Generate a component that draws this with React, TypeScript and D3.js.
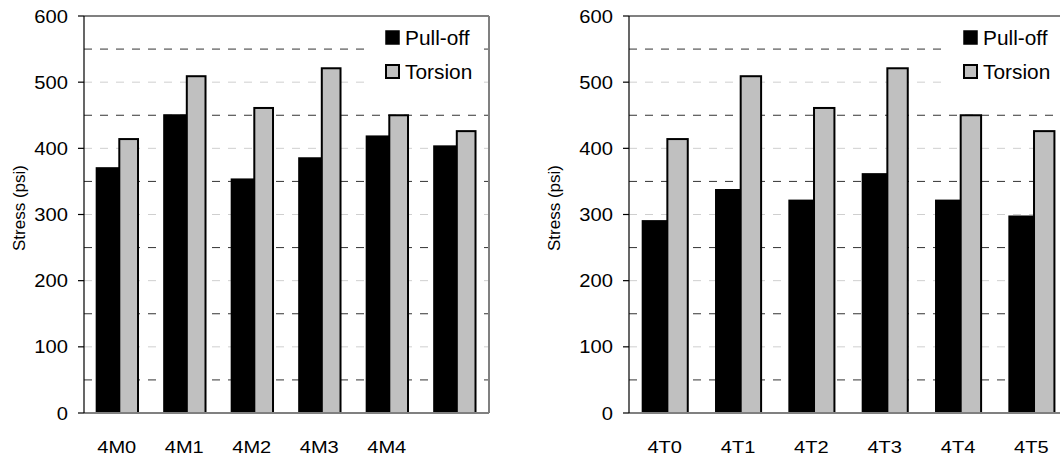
import React from "react";
import * as d3 from "d3";

const yTicks = [0, 100, 200, 300, 400, 500, 600];
const minorGrid = [50, 150, 250, 350, 450, 550];
const majorGrid = [100, 200, 300, 400, 500];
const seriesNames = ["Pull-off", "Torsion"];

const leftCategories = ["4M0", "4M1", "4M2", "4M3", "4M4", "4M5"];
const leftLabels = ["4M0", "4M1", "4M2", "4M3", "4M4", ""];
const leftPulloff = [370, 450, 353, 385, 418, 403];
const leftTorsion = [414, 509, 461, 521, 450, 426];

const rightCategories = ["4T0", "4T1", "4T2", "4T3", "4T4", "4T5"];
const rightLabels = ["4T0", "4T1", "4T2", "4T3", "4T4", "4T5"];
const rightPulloff = [290, 337, 321, 361, 321, 297];
const rightTorsion = [414, 509, 461, 521, 450, 426];

const FONT = "'Liberation Sans', Arial, Helvetica, sans-serif";
const SX = 1.12;

type PanelProps = {
  x0: number;
  x1: number;
  y0: number;
  y1: number;
  categories: string[];
  labels: string[];
  pulloff: number[];
  torsion: number[];
  titleX: number;
  legendX: number;
};

function Panel(p: PanelProps) {
  const x = d3.scaleBand<string>().domain(p.categories).range([p.x0, p.x1]).padding(0);
  const y = d3.scaleLinear().domain([0, 600]).range([p.y1, p.y0]);
  const bw = x.bandwidth();
  const frac = d3.scaleLinear().domain([0, 1]).range([0, bw]);
  const bStart = 0.173, bMid = 0.523, bEnd = 0.815;
  const clipId = "clip" + Math.round(p.x0);
  return (
    <g>
      <defs>
        <clipPath id={clipId}>
          <rect x={p.x0} y={p.y0 - 2} width={p.x1 - p.x0 + 2} height={p.y1 - p.y0 + 4} />
        </clipPath>
      </defs>
      <g clipPath={`url(#${clipId})`}>
        {majorGrid.map((v) => (
          <line key={"M" + v} x1={p.x0} x2={p.x1} y1={y(v)} y2={y(v)} stroke="#cfcfcf" strokeWidth={1} strokeDasharray="8,8" />
        ))}
        {minorGrid.map((v) => (
          <line key={"m" + v} x1={p.x0} x2={p.x1} y1={y(v)} y2={y(v)} stroke="#333" strokeWidth={1} strokeDasharray="8,8" />
        ))}
        {p.categories.map((c, i) => {
          const bx = x(c)!;
          return (
            <g key={c}>
              <rect x={bx + frac(bStart) + 1} y={y(p.pulloff[i])} width={frac(bMid - bStart) - 1} height={y(0) - y(p.pulloff[i])} fill="#000" stroke="#000" strokeWidth={2} />
              <rect x={bx + frac(bMid)} y={y(p.torsion[i])} width={frac(bEnd - bMid) - 1} height={y(0) - y(p.torsion[i])} fill="#c0c0c0" stroke="#000" strokeWidth={2} />
            </g>
          );
        })}
        <rect x={p.legendX - 18} y={p.y0 + 1} width={116} height={79} fill="#fff" />
        <rect x={p.legendX + 1} y={31} width={13} height={13} fill="#000" stroke="#000" strokeWidth={1.5} />
        <rect x={p.legendX + 1} y={65} width={13} height={13} fill="#c0c0c0" stroke="#000" strokeWidth={2} />
        {seriesNames.map((s, i) => (
          <text key={s} transform={`translate(${p.legendX + 20},${45 + i * 33.5}) scale(1.07,1)`} fontSize={19.5} fontFamily={FONT} fill="#000">
            {s}
          </text>
        ))}
      </g>
      {/* frame */}
      <line x1={p.x0} x2={p.x1} y1={p.y0} y2={p.y0} stroke="#808080" strokeWidth={2} />
      <line x1={p.x1} x2={p.x1} y1={p.y0} y2={p.y1} stroke="#808080" strokeWidth={2} />
      <line x1={p.x0} x2={p.x1} y1={p.y1} y2={p.y1} stroke="#808080" strokeWidth={2} />
      <line x1={p.x0} x2={p.x0} y1={p.y0} y2={p.y1} stroke="#000" strokeWidth={1.2} />
      {yTicks.map((v) => (
        <g key={"t" + v}>
          <line x1={p.x0 - 6} x2={p.x0} y1={y(v)} y2={y(v)} stroke="#000" strokeWidth={1.2} />
          <text transform={`translate(${p.x0 - 16},${y(v) + 6.5}) scale(${SX},1)`} textAnchor="end" fontSize={18} fontFamily={FONT} fill="#000">
            {v}
          </text>
        </g>
      ))}
      {p.categories.map((c, i) => (
        <text key={"x" + c} transform={`translate(${x(c)! + bw / 2 - 1},${452.5}) scale(1.18,1)`} textAnchor="middle" fontSize={17} fontFamily={FONT} fill="#000">
          {p.labels[i]}
        </text>
      ))}
      <text transform={`translate(${p.titleX},208) rotate(-90)`} textAnchor="middle" fontSize={17} fontFamily={FONT} fill="#000">
        Stress (psi)
      </text>
    </g>
  );
}

export default function App() {
  return (
    <svg width={1060} height={459} style={{ position: "absolute", left: 0, top: 0, background: "#fff" }}>
      <rect width={1060} height={459} fill="#fff" />
      <Panel x0={84} x1={489} y0={16} y1={413} categories={leftCategories} labels={leftLabels} pulloff={leftPulloff} torsion={leftTorsion} titleX={25} legendX={385} />
      <Panel x0={629} x1={1069} y0={16} y1={413} categories={rightCategories} labels={rightLabels} pulloff={rightPulloff} torsion={rightTorsion} titleX={560} legendX={963} />
    </svg>
  );
}
